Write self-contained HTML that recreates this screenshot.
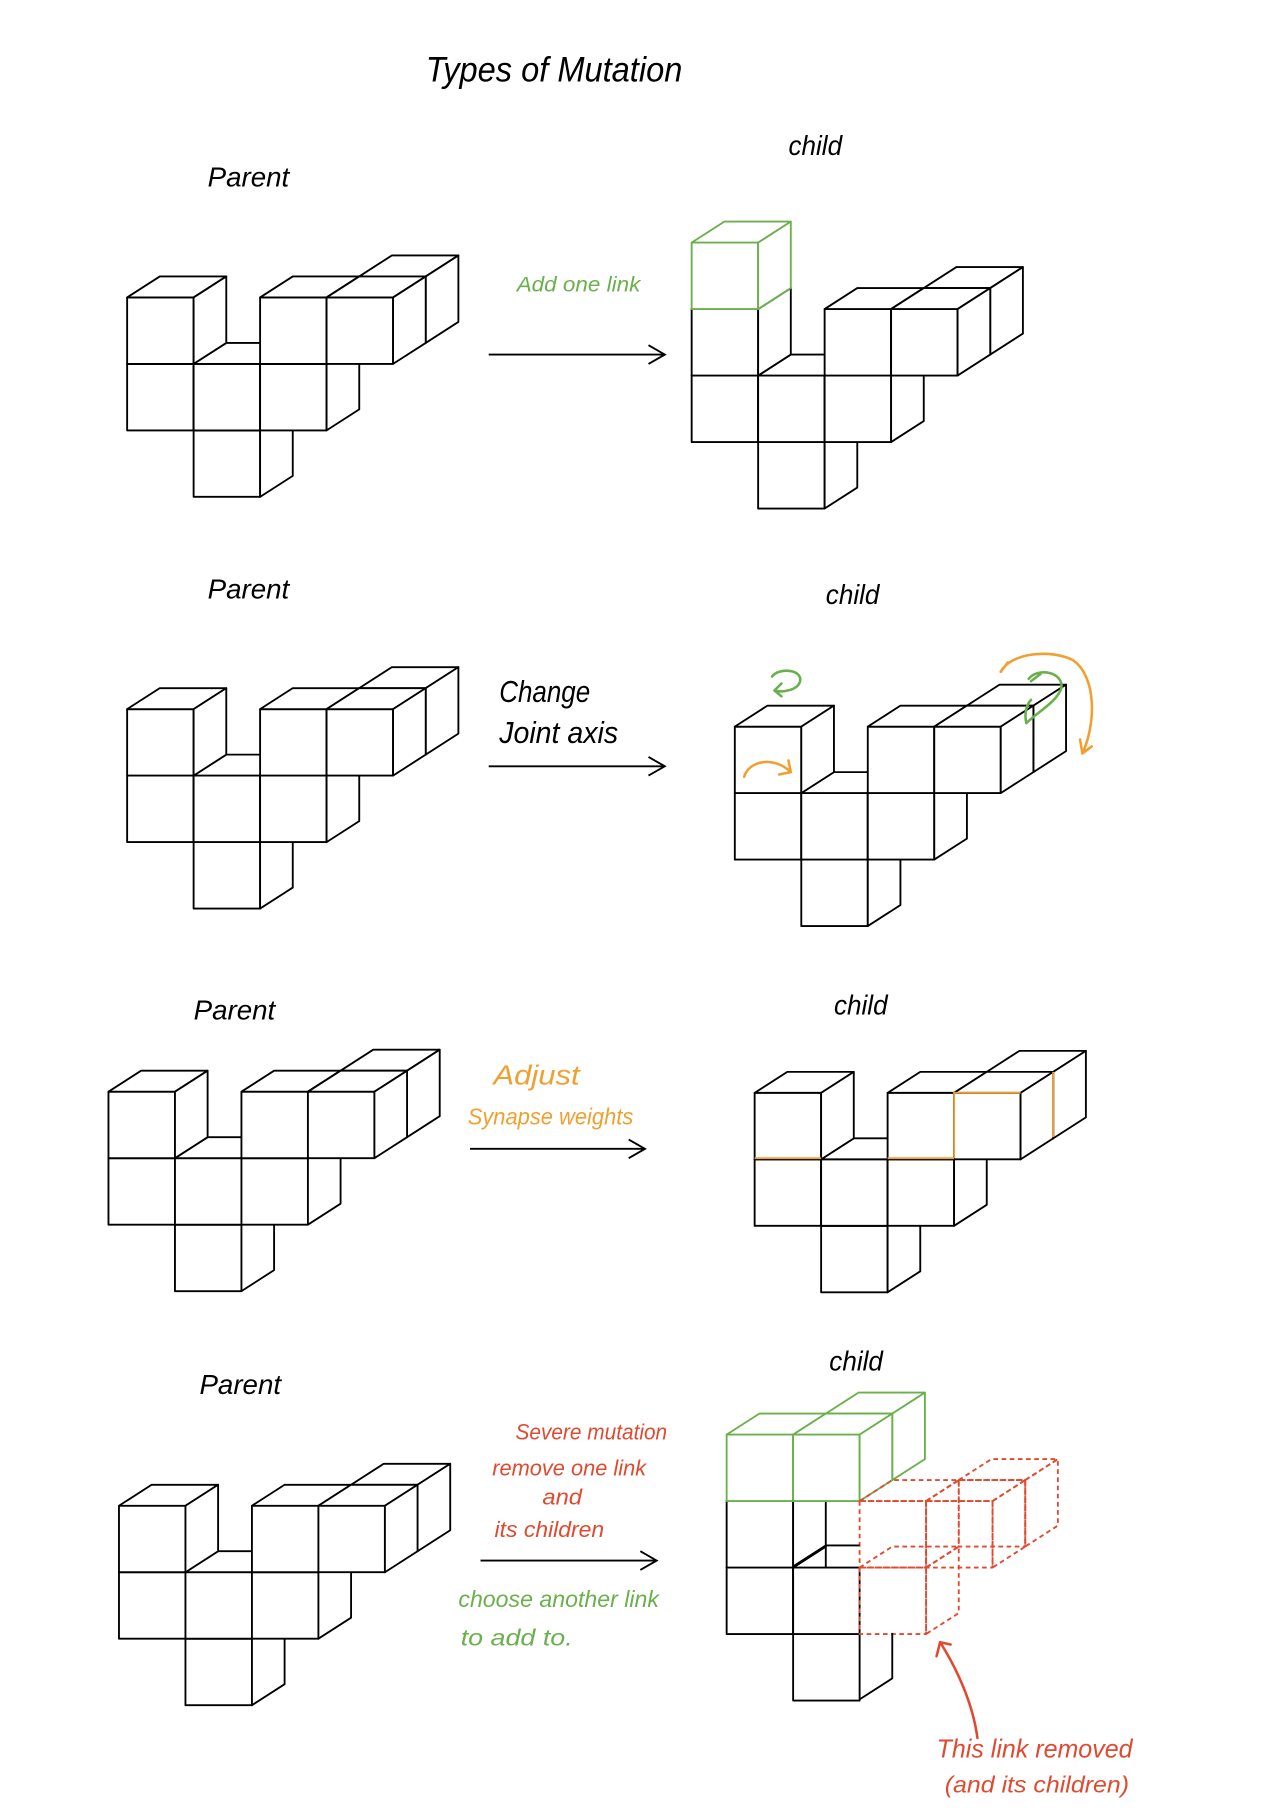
<!DOCTYPE html>
<html><head><meta charset="utf-8"><style>
html,body{margin:0;padding:0;background:#fff;}
svg{display:block;}
text{font-family:"Liberation Sans",sans-serif;}
</style></head><body>
<svg id="s" width="1283" height="1816" viewBox="0 0 1100 1557" preserveAspectRatio="none" xmlns="http://www.w3.org/2000/svg">
<g id="cubes"></g>
<g stroke="#000" stroke-width="1.6" fill="none" stroke-linejoin="round">
<path d="M680 1343L708 1325H737"/>
<path d="M765 1400V1439L737 1457"/>
</g>
<g font-style="italic">
<text x="365" y="70" font-size="30" fill="#000" textLength="220" lengthAdjust="spacingAndGlyphs">Types of Mutation</text>
<text x="178" y="160" font-size="24" textLength="70" lengthAdjust="spacingAndGlyphs">Parent</text>
<text x="676" y="133" font-size="24" textLength="46" lengthAdjust="spacingAndGlyphs">child</text>
<text x="443" y="250" font-size="18" fill="#6ab04c" textLength="106" lengthAdjust="spacingAndGlyphs">Add one link</text>
<text x="178" y="513" font-size="24" textLength="70" lengthAdjust="spacingAndGlyphs">Parent</text>
<text x="708" y="518" font-size="24" textLength="46" lengthAdjust="spacingAndGlyphs">child</text>
<text x="428" y="602" font-size="26" textLength="78" lengthAdjust="spacingAndGlyphs">Change</text>
<text x="428" y="637" font-size="26" textLength="102" lengthAdjust="spacingAndGlyphs">Joint axis</text>
<text x="166" y="874" font-size="24" textLength="70" lengthAdjust="spacingAndGlyphs">Parent</text>
<text x="715" y="870" font-size="24" textLength="46" lengthAdjust="spacingAndGlyphs">child</text>
<text x="423" y="930" font-size="24" fill="#f0a030" textLength="74" lengthAdjust="spacingAndGlyphs">Adjust</text>
<text x="401" y="964" font-size="20" fill="#f0a030" textLength="142" lengthAdjust="spacingAndGlyphs">Synapse weights</text>
<text x="171" y="1195" font-size="24" textLength="70" lengthAdjust="spacingAndGlyphs">Parent</text>
<text x="711" y="1175" font-size="24" textLength="46" lengthAdjust="spacingAndGlyphs">child</text>
<text x="442" y="1234" font-size="19" fill="#e04a30" textLength="130" lengthAdjust="spacingAndGlyphs">Severe mutation</text>
<text x="422" y="1265" font-size="19" fill="#e04a30" textLength="132" lengthAdjust="spacingAndGlyphs">remove one link</text>
<text x="465" y="1290" font-size="19" fill="#e04a30" textLength="34" lengthAdjust="spacingAndGlyphs">and</text>
<text x="424" y="1318" font-size="19" fill="#e04a30" textLength="94" lengthAdjust="spacingAndGlyphs">its children</text>
<text x="393" y="1378" font-size="20" fill="#6ab04c" textLength="172" lengthAdjust="spacingAndGlyphs">choose another link</text>
<text x="395" y="1411" font-size="20" fill="#6ab04c" textLength="96" lengthAdjust="spacingAndGlyphs">to add to.</text>
<text x="803" y="1507" font-size="22" fill="#e04a30" textLength="168" lengthAdjust="spacingAndGlyphs">This link removed</text>
<text x="810" y="1537" font-size="20" fill="#e04a30" textLength="158" lengthAdjust="spacingAndGlyphs">(and its children)</text>
</g>
<g stroke="#000" stroke-width="1.6" fill="none">
<path d="M419 304H570M556 296L570 304L556 312"/>
<path d="M419 657H570M556 649L570 657L556 665"/>
<path d="M403 985H553M539 977L553 985L539 993"/>
<path d="M412 1338H563M549 1330L563 1338L549 1346"/>
</g>
<g fill="none" stroke-width="2.2" stroke-linecap="round">
<path d="M662 580C668 572 688 574 686 584C684 592 670 594 664 592M664 592L670 586M664 592L670 597" stroke="#6ab04c"/>
<path d="M638 666C642 652 664 648 678 662M678 662L676 652M678 662L668 664" stroke="#f0a030"/>
<path d="M882 582C890 572 912 576 910 590C906 602 890 610 880 620M880 620C878 612 880 604 884 600M884 584L892 578" stroke="#6ab04c"/>
<path d="M858 576C866 560 900 556 920 566C940 580 940 620 928 646M928 646L926 634M928 646L936 640M858 576L864 568" stroke="#f0a030"/>
<path d="M838 1490C834 1460 820 1430 806 1408M806 1408L803 1420M806 1408L815 1410" stroke="#e04a30"/>
</g>
<g stroke="#f0a030" stroke-width="1.6" fill="none">
<path d="M647 993H704M761 993H818M818 993V937H875M903 919V975"/>
</g>
</svg>
<script>
(function(){
var g=document.getElementById('cubes'),NS='http://www.w3.org/2000/svg',S=57,DX=28,DY=-18;
function draw(X0,Y0,list){
 list=list.slice().sort(function(a,b){return (b[2]-a[2])||(b[1]-a[1])||(a[0]-b[0]);});
 list.forEach(function(c){
  var x=X0+c[0]*S+c[2]*DX,y=Y0+c[1]*S+c[2]*DY,col=c[3]||'#000',dash=c[4],frontOnly=c[5];
  var faces=[[x,y,x+S,y,x+S,y+S,x,y+S]];
  if(!frontOnly){faces.push([x,y,x+DX,y+DY,x+S+DX,y+DY,x+S,y]);faces.push([x+S,y,x+S+DX,y+DY,x+S+DX,y+S+DY,x+S,y+S]);}
  faces.forEach(function(f){
   var p=document.createElementNS(NS,'polygon');
   p.setAttribute('points',f.join(' '));
   p.setAttribute('fill',dash?'none':'#fff');
   p.setAttribute('stroke',col);
   p.setAttribute('stroke-width','1.6');
   p.setAttribute('stroke-linejoin','round');
   if(dash)p.setAttribute('stroke-dasharray','4 3');
   g.appendChild(p);
  });
 });
}
var base=[[0,0,0],[2,0,0],[3,0,0],[3,0,1],[0,1,0],[1,1,0],[2,1,0],[1,2,0]];
draw(109,255,base);
draw(593,265,base.concat([[0,-1,0,'#6ab04c']]));
draw(109,608,base);
draw(630,623,base);
draw(93,936,base);
draw(647,937,base);
draw(102,1291,base);
var G='#6ab04c',R='#e04a30';
draw(623,1287,[[0,0,0],[0,1,0],[1,1,0,'#000',0,1],[1,2,0,'#000',0,1],[0,-1,0,G],[1,-1,0,G],[1,-1,1,G]]);
draw(623,1287,[[2,0,0,R,1],[3,0,0,R,1],[3,0,1,R,1],[2,1,0,R,1]]);
})();
</script>
</body></html>
